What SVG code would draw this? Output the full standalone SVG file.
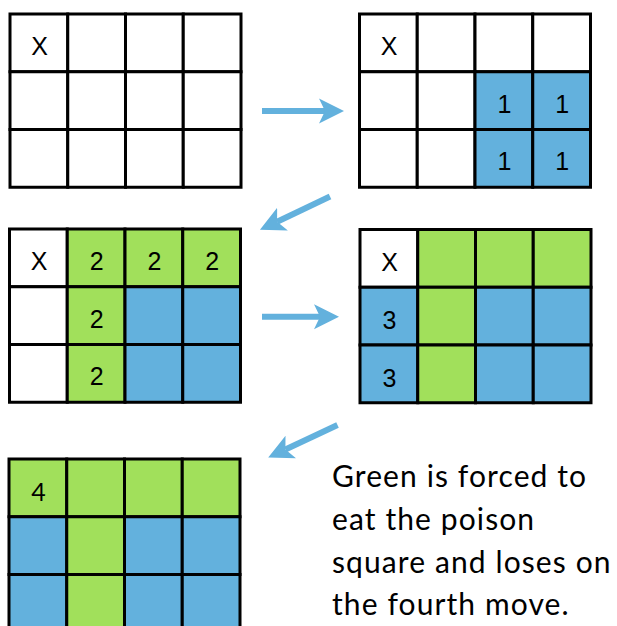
<svg xmlns="http://www.w3.org/2000/svg" width="617" height="626" viewBox="0 0 617 626">
<style>
.w,.b,.g{stroke:#000;stroke-width:3}
.w{fill:#fff}.b{fill:#63B1DD}.g{fill:#A1E05B}
.n{font-family:"Liberation Sans",Arial,sans-serif;font-size:25px;fill:#000;text-anchor:middle}
.cap{font-family:Lato,"Open Sans",sans-serif;font-size:30px;letter-spacing:1.1px;fill:#000}
.arr{stroke:#63B1DD;stroke-width:6;fill:none}
</style>
<defs>
<marker id="ah" markerUnits="userSpaceOnUse" markerWidth="27" markerHeight="27" viewBox="0 -13.5 27 27" refX="6" refY="0" orient="auto">
<path d="M0,-12.5 L25,0 L0,12.5 L6,0 Z" fill="#63B1DD"/>
</marker>
</defs>
<rect x="0" y="0" width="617" height="626" fill="#fff"/>
<g id="grid1" transform="translate(10,14)">
<rect class="w" x="0" y="0" width="57.75" height="57.75"/><rect class="w" x="57.75" y="0" width="57.75" height="57.75"/><rect class="w" x="115.5" y="0" width="57.75" height="57.75"/><rect class="w" x="173.25" y="0" width="57.75" height="57.75"/>
<rect class="w" x="0" y="57.75" width="57.75" height="57.75"/><rect class="w" x="57.75" y="57.75" width="57.75" height="57.75"/><rect class="w" x="115.5" y="57.75" width="57.75" height="57.75"/><rect class="w" x="173.25" y="57.75" width="57.75" height="57.75"/>
<rect class="w" x="0" y="115.5" width="57.75" height="57.75"/><rect class="w" x="57.75" y="115.5" width="57.75" height="57.75"/><rect class="w" x="115.5" y="115.5" width="57.75" height="57.75"/><rect class="w" x="173.25" y="115.5" width="57.75" height="57.75"/>
<text class="n" x="29.5" y="41">X</text>
</g>
<g id="grid2" transform="translate(359.5,14)">
<rect class="w" x="0" y="0" width="57.75" height="57.75"/><rect class="w" x="57.75" y="0" width="57.75" height="57.75"/><rect class="w" x="115.5" y="0" width="57.75" height="57.75"/><rect class="w" x="173.25" y="0" width="57.75" height="57.75"/>
<rect class="w" x="0" y="57.75" width="57.75" height="57.75"/><rect class="w" x="57.75" y="57.75" width="57.75" height="57.75"/><rect class="b" x="115.5" y="57.75" width="57.75" height="57.75"/><rect class="b" x="173.25" y="57.75" width="57.75" height="57.75"/>
<rect class="w" x="0" y="115.5" width="57.75" height="57.75"/><rect class="w" x="57.75" y="115.5" width="57.75" height="57.75"/><rect class="b" x="115.5" y="115.5" width="57.75" height="57.75"/><rect class="b" x="173.25" y="115.5" width="57.75" height="57.75"/>
<text class="n" x="29.5" y="41">X</text>
<text class="n" x="145" y="98.7">1</text><text class="n" x="202.7" y="98.7">1</text>
<text class="n" x="145" y="156.4">1</text><text class="n" x="202.7" y="156.4">1</text>
</g>
<g id="grid3" transform="translate(9.5,229)">
<rect class="w" x="0" y="0" width="57.75" height="57.75"/><rect class="g" x="57.75" y="0" width="57.75" height="57.75"/><rect class="g" x="115.5" y="0" width="57.75" height="57.75"/><rect class="g" x="173.25" y="0" width="57.75" height="57.75"/>
<rect class="w" x="0" y="57.75" width="57.75" height="57.75"/><rect class="g" x="57.75" y="57.75" width="57.75" height="57.75"/><rect class="b" x="115.5" y="57.75" width="57.75" height="57.75"/><rect class="b" x="173.25" y="57.75" width="57.75" height="57.75"/>
<rect class="w" x="0" y="115.5" width="57.75" height="57.75"/><rect class="g" x="57.75" y="115.5" width="57.75" height="57.75"/><rect class="b" x="115.5" y="115.5" width="57.75" height="57.75"/><rect class="b" x="173.25" y="115.5" width="57.75" height="57.75"/>
<text class="n" x="29.5" y="41">X</text>
<text class="n" x="87.2" y="41">2</text><text class="n" x="145" y="41">2</text><text class="n" x="202.7" y="41">2</text>
<text class="n" x="87.2" y="98.7">2</text>
<text class="n" x="87.2" y="156.4">2</text>
</g>
<g id="grid4" transform="translate(360,229.5)">
<rect class="w" x="0" y="0" width="57.75" height="57.75"/><rect class="g" x="57.75" y="0" width="57.75" height="57.75"/><rect class="g" x="115.5" y="0" width="57.75" height="57.75"/><rect class="g" x="173.25" y="0" width="57.75" height="57.75"/>
<rect class="b" x="0" y="57.75" width="57.75" height="57.75"/><rect class="g" x="57.75" y="57.75" width="57.75" height="57.75"/><rect class="b" x="115.5" y="57.75" width="57.75" height="57.75"/><rect class="b" x="173.25" y="57.75" width="57.75" height="57.75"/>
<rect class="b" x="0" y="115.5" width="57.75" height="57.75"/><rect class="g" x="57.75" y="115.5" width="57.75" height="57.75"/><rect class="b" x="115.5" y="115.5" width="57.75" height="57.75"/><rect class="b" x="173.25" y="115.5" width="57.75" height="57.75"/>
<text class="n" x="29.5" y="41">X</text>
<text class="n" x="29.5" y="99.5">3</text>
<text class="n" x="29.5" y="157.2">3</text>
</g>
<g id="grid5" transform="translate(9,459)">
<rect class="g" x="0" y="0" width="57.75" height="57.75"/><rect class="g" x="57.75" y="0" width="57.75" height="57.75"/><rect class="g" x="115.5" y="0" width="57.75" height="57.75"/><rect class="g" x="173.25" y="0" width="57.75" height="57.75"/>
<rect class="b" x="0" y="57.75" width="57.75" height="57.75"/><rect class="g" x="57.75" y="57.75" width="57.75" height="57.75"/><rect class="b" x="115.5" y="57.75" width="57.75" height="57.75"/><rect class="b" x="173.25" y="57.75" width="57.75" height="57.75"/>
<rect class="b" x="0" y="115.5" width="57.75" height="57.75"/><rect class="g" x="57.75" y="115.5" width="57.75" height="57.75"/><rect class="b" x="115.5" y="115.5" width="57.75" height="57.75"/><rect class="b" x="173.25" y="115.5" width="57.75" height="57.75"/>
<text class="n" x="29.5" y="41.5" style="font-family:Lato,'Liberation Sans',sans-serif">4</text>
</g>
<g id="connectors">
<line class="arr" x1="262" y1="111" x2="325" y2="111" marker-end="url(#ah)"/>
<line class="arr" x1="330" y1="196.5" x2="277.1" y2="221.7" marker-end="url(#ah)"/>
<line class="arr" x1="262" y1="316.7" x2="320" y2="316.7" marker-end="url(#ah)"/>
<line class="arr" x1="337.5" y1="425" x2="285.4" y2="449.5" marker-end="url(#ah)"/>
</g>
<g id="caption">
<text class="cap" x="332" y="487">Green is forced to</text>
<text class="cap" x="332" y="530">eat the poison</text>
<text class="cap" x="332" y="573">square and loses on</text>
<text class="cap" x="332" y="615">the fourth move.</text>
</g>
</svg>
